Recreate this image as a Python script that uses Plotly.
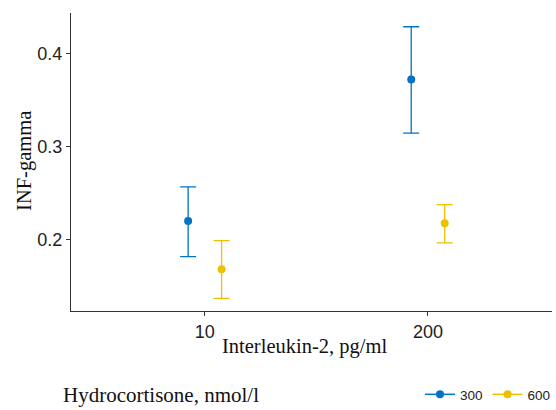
import plotly.graph_objects as go

# Data
il2_levels = ["10", "200"]
groups = ["300", "600"]
colors = ["#0073C2", "#EFC000"]
means = {"300": [0.220, 0.3725], "600": [0.168, 0.2176]}
upper = {"300": [0.2567, 0.4292], "600": [0.1989, 0.2377]}
lower = {"300": [0.1816, 0.3146], "600": [0.1368, 0.1964]}
dodge = {"300": -0.075, "600": 0.075}

# figure geometry (page body margin removed in post_script)
W, H = 556, 410
L, R, T, B = 71, 0, 13, 94
PW, PH = W - L - R, H - T - B


def px(xp):
    return (xp - L) / PW


def py(yp):
    return (H - B - yp) / PH


fig = go.Figure()
for g, c in zip(groups, colors):
    xs = [i + dodge[g] for i in range(len(il2_levels))]
    m = means[g]
    fig.add_trace(go.Scatter(
        x=xs, y=m, mode="markers",
        marker=dict(color=c, size=8),
        error_y=dict(type="data", symmetric=False,
                     array=[u - v for u, v in zip(upper[g], m)],
                     arrayminus=[v - l for v, l in zip(m, lower[g])],
                     color=c, thickness=1.3, width=8),
        showlegend=False, hoverinfo="skip"))
    fig.add_trace(go.Scatter(
        x=[None], y=[None], mode="lines+markers", name=g,
        line=dict(color=c, width=1.4), marker=dict(color=c, size=8)))

axis_color = "#333333"
serif = "Liberation Serif, Times New Roman, serif"
fig.update_layout(
    width=W, height=H,
    margin=dict(l=L, r=R, t=T, b=B),
    plot_bgcolor="white", paper_bgcolor="white",
    font=dict(family="Liberation Sans, Arial, sans-serif", color="#1a1a1a"),
    xaxis=dict(range=[-0.6, 1.556], tickvals=list(range(len(il2_levels))),
               ticktext=il2_levels, showgrid=False, zeroline=False,
               showline=True, linecolor=axis_color, linewidth=1.2,
               ticks="outside", ticklen=4, tickcolor=axis_color,
               tickfont=dict(size=18, color="#222")),
    yaxis=dict(range=[0.1231, 0.444], tickvals=[0.2, 0.3, 0.4],
               ticktext=["0.2", "0.3", "0.4"], showgrid=False, zeroline=False,
               showline=True, linecolor=axis_color, linewidth=1.2,
               ticks="outside", ticklen=4, tickcolor=axis_color,
               tickfont=dict(size=18, color="#222")),
    legend=dict(orientation="h", x=px(423), xanchor="left", y=py(401),
                yanchor="middle", font=dict(size=13.5, color="#222"),
                bgcolor="rgba(0,0,0,0)"),
    annotations=[
        dict(text="Interleukin-2, pg/ml", xref="paper", yref="paper",
             x=px(306), y=py(352), xanchor="center", yanchor="middle",
             showarrow=False, font=dict(family=serif, size=20.5, color="#111")),
        dict(text="INF-gamma", xref="paper", yref="paper",
             x=px(24), y=py(163), xanchor="center", yanchor="middle",
             textangle=-90, showarrow=False,
             font=dict(family=serif, size=20.5, color="#111")),
        dict(text="Hydrocortisone, nmol/l", xref="paper", yref="paper",
             x=px(61), y=py(401), xanchor="left", yanchor="middle",
             showarrow=False, font=dict(family=serif, size=21, color="#111")),
    ],
)

fig.write_html(
    "out.html",
    config={"displayModeBar": False},
    post_script="document.body.style.margin='0';"
                "document.body.style.overflow='hidden';"
                "document.documentElement.style.overflow='hidden';")
